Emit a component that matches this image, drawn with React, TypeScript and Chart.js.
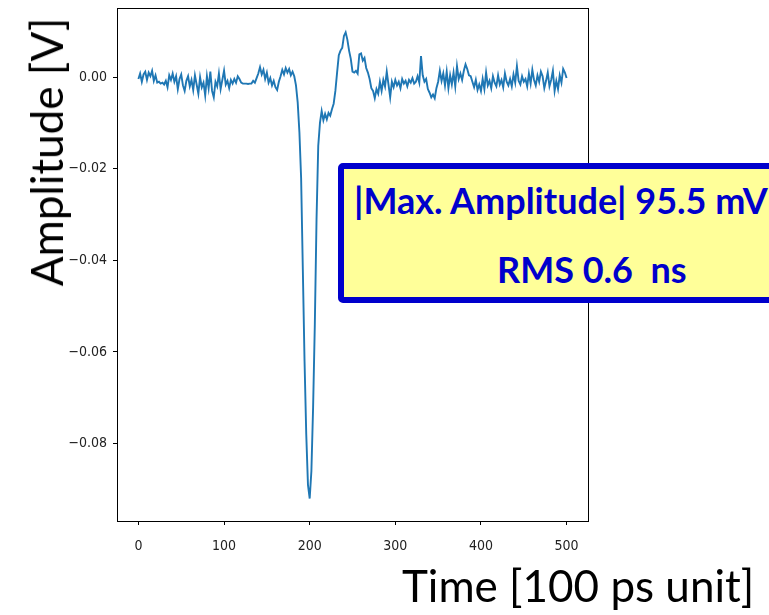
import React, { useEffect, useRef } from "react";
import { Chart, registerables } from "chart.js";

Chart.register(...registerables);

// Sample index (time in 100 ps units), every 2 samples
const TIME: number[] = [];
for (let t = 0; t <= 500; t += 2) TIME.push(t);

// Amplitude [V], one value per TIME entry
const AMPLITUDE: number[] = [
  -0.0004, 0.0008, -0.001, 0.0006, 0.0012, -0.0006, 0.001, 0.0002, 0.0014, -0.0008,
  0.0004, -0.0012, -0.001, -0.0014, -0.0012, -0.0016, -0.0008, -0.0022, 0.0004, -0.0006,
  0.0008, -0.001, 0.0002, -0.0026, -0.0004, 0.0006, -0.0018, -0.003, -0.0008, 0.0002,
  -0.002, -0.0006, -0.0028, 0.0004, -0.0016, -0.0036, 0.0, -0.0022, -0.0012, -0.004,
  0.0002, -0.0024, 0.0012, -0.003, -0.0044, -0.001, -0.002, 0.0008, -0.0026, -0.0006,
  0.0014, -0.0016, -0.0008, -0.0024, -0.0006, -0.0014, -0.0004, -0.0012, 0.0002, -0.0004,
  -0.0012, -0.0014, -0.0014, -0.0014, -0.0015, -0.0014, -0.0014, -0.0008, -0.0012, -0.0002,
  0.0008, 0.0022, 0.0006, 0.0016, -0.0004, 0.001, -0.0012, -0.0002, -0.0018, -0.0008,
  -0.0022, -0.0028, -0.001, 0.0002, 0.0016, 0.0006, 0.002, 0.001, 0.0018, 0.0004,
  0.0012, 0.0002, -0.0018, -0.0055, -0.012, -0.022, -0.042, -0.062, -0.078, -0.089,
  -0.092, -0.086, -0.072, -0.054, -0.031, -0.015, -0.01, -0.0074, -0.0094, -0.008,
  -0.0092, -0.0078, -0.0084, -0.007, -0.0058, -0.003, 0.001, 0.0048, 0.0058, 0.0064,
  0.009, 0.0098, 0.0082, 0.0058, 0.004, 0.0012, 0.001, 0.0014, 0.0008, 0.005,
  0.0052, 0.0036, 0.0042, 0.002, 0.001, -0.0004, -0.0024, -0.003, -0.0046, -0.0026,
  -0.0036, -0.001, -0.003, -0.0006, -0.002, 0.0012, -0.0016, -0.0044, -0.001, -0.0022,
  -0.0006, -0.0018, -0.001, -0.0024, -0.0004, -0.0014, -0.0008, -0.002, -0.0006, -0.0012,
  -0.0002, -0.0014, -0.001, 0.0002, -0.0012, 0.0046, 0.0004, -0.001, -0.0004, -0.0026,
  -0.0034, -0.0044, -0.0038, -0.0046, -0.0024, -0.001, 0.0014, -0.0008, 0.0008, -0.0018,
  0.0012, -0.0024, 0.0004, -0.0016, 0.001, -0.002, 0.0024, -0.0004, 0.0008, -0.0006,
  0.0014, 0.0028, 0.0018, 0.0004, 0.0002, -0.001, -0.0022, -0.0006, -0.0028, -0.0016,
  -0.003, -0.0004, -0.0026, 0.001, -0.0018, -0.0008, -0.0024, 0.0002, -0.0012, -0.002,
  0.0004, -0.0016, -0.0006, -0.0022, 0.0008, -0.001, -0.0018, -0.0004, -0.002, 0.0006,
  -0.0012, 0.0024, -0.0008, -0.0016, 0.0002, -0.001, -0.0004, -0.002, 0.0008, -0.0014,
  0.0016, -0.0006, -0.0018, 0.0004, -0.001, 0.0012, 0.0002, -0.0024, -0.0008, 0.001,
  -0.002, -0.0006, 0.0014, -0.003, -0.0008, -0.0026, 0.0004, -0.0012, 0.0018, 0.001,
  -0.0002,
];

const X_TICKS = [0, 100, 200, 300, 400, 500];
const Y_TICKS = [0, -0.02, -0.04, -0.06, -0.08];

const X_TITLE = "Time [100 ps unit]";
const Y_TITLE = "Amplitude [V]";
const BOX_LINE1 = "|Max. Amplitude| 95.5 mV";
const BOX_LINE2 = "RMS 0.6  ns";

const frame = {
  id: "frame",
  afterDraw(chart: any) {
    const { ctx, chartArea } = chart;
    ctx.save();
    ctx.strokeStyle = "#000";
    ctx.lineWidth = 1;
    ctx.strokeRect(
      Math.round(chartArea.left) + 0.5,
      Math.round(chartArea.top) + 0.5,
      Math.round(chartArea.right - chartArea.left),
      Math.round(chartArea.bottom - chartArea.top)
    );
    ctx.restore();
  },
};

export default function App() {
  const ref = useRef<HTMLCanvasElement | null>(null);

  useEffect(() => {
    if (!ref.current) return;
    const tickFont = { family: "'DejaVu Sans Condensed', 'DejaVu Sans', sans-serif", size: 14 };
    const chart = new Chart(ref.current, {
      type: "line",
      data: {
        datasets: [
          {
            data: TIME.map((t, i) => ({ x: t, y: AMPLITUDE[i] })),
            borderColor: "#1f77b4",
            borderWidth: 1.9,
            pointRadius: 0,
            tension: 0,
            fill: false,
          },
        ],
      },
      options: {
        animation: false,
        responsive: false,
        maintainAspectRatio: false,
        layout: { padding: { left: 0, top: 8, right: 181, bottom: 0 } },
        plugins: { legend: { display: false }, tooltip: { enabled: false } },
        scales: {
          x: {
            type: "linear",
            min: -25,
            max: 525,
            afterBuildTicks: (s: any) => {
              s.ticks = X_TICKS.map((v) => ({ value: v }));
            },
            afterFit: (s: any) => {
              s.height = 94;
              s.paddingLeft = 0;
              s.paddingRight = 0;
            },
            grid: { drawOnChartArea: false, tickLength: 4, color: "#000", tickColor: "#000" },
            border: { display: true, color: "#000", width: 1 },
            ticks: {
              color: "#222",
              font: tickFont,
              padding: 13,
              maxRotation: 0,
              callback: (v: any) => String(v),
            },
          },
          y: {
            type: "linear",
            min: -0.0969,
            max: 0.0151,
            afterBuildTicks: (s: any) => {
              s.ticks = Y_TICKS.map((v) => ({ value: v }));
            },
            afterFit: (s: any) => {
              s.width = 117;
              s.paddingTop = 0;
              s.paddingBottom = 0;
            },
            grid: { drawOnChartArea: false, tickLength: 4, color: "#000", tickColor: "#000" },
            border: { display: true, color: "#000", width: 1 },
            ticks: {
              color: "#222",
              font: tickFont,
              padding: 6,
              callback: (v: any) => (v === 0 ? "0.00" : "\u2212" + Math.abs(v).toFixed(2)),
            },
          },
        },
      },
      plugins: [frame],
    });
    return () => chart.destroy();
  }, []);

  return (
    <div
      style={{
        position: "fixed",
        left: 0,
        top: 0,
        width: 769,
        height: 615,
        overflow: "hidden",
        background: "#fff",
      }}
    >
      <canvas ref={ref} width={769} height={615} style={{ position: "absolute", left: 0, top: 0 }} />
      <div
        style={{
          position: "absolute",
          left: 46,
          top: 152,
          transform: "translate(-50%, -50%) rotate(-90deg)",
          fontFamily: "Lato, 'Open Sans', sans-serif",
          fontSize: 44,
          whiteSpace: "nowrap",
          color: "#000",
          lineHeight: 1,
        }}
      >
        {Y_TITLE}
      </div>
      <div
        style={{
          position: "absolute",
          left: 402,
          top: 563,
          fontFamily: "Lato, 'Open Sans', sans-serif",
          fontSize: 44,
          whiteSpace: "nowrap",
          color: "#000",
          lineHeight: 1,
        }}
      >
        {X_TITLE}
      </div>
      <div
        style={{
          position: "absolute",
          left: 338,
          top: 163,
          width: 520,
          height: 140,
          boxSizing: "border-box",
          border: "6px solid #0000cc",
          borderRadius: 5,
          background: "#ffff99",
        }}
      />
      <div
        style={{
          position: "absolute",
          left: 354,
          top: 182,
          fontFamily: "Lato, 'Open Sans', sans-serif",
          fontWeight: 700,
          fontSize: 36,
          whiteSpace: "pre",
          color: "#0000cc",
          lineHeight: 1,
        }}
      >
        {BOX_LINE1}
      </div>
      <div
        style={{
          position: "absolute",
          left: 497,
          top: 251,
          fontFamily: "Lato, 'Open Sans', sans-serif",
          fontWeight: 700,
          fontSize: 36,
          whiteSpace: "pre",
          color: "#0000cc",
          lineHeight: 1,
        }}
      >
        {BOX_LINE2}
      </div>
    </div>
  );
}
